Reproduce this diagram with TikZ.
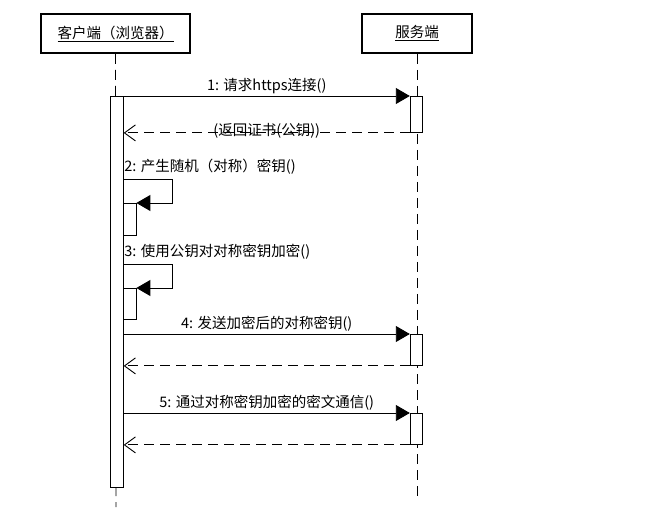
\documentclass[tikz,border=0pt]{standalone}
\usepackage{fontspec}
\setmainfont{Noto Sans CJK SC}
\usetikzlibrary{arrows.meta, positioning}
\tikzset{
  actor/.style={rectangle, draw=black, line width=2pt, minimum height=39pt,
    inner sep=0pt, font=\fontsize{14.5}{16}\selectfont},
  bar/.style={rectangle, draw=black, fill=white, line width=0.9pt,
    minimum width=12.5pt, inner sep=0pt},
  lifeline/.style={dash pattern=on 10pt off 6pt, line width=0.9pt},
  call/.style={-{Triangle[length=14pt, width=16pt]}, line width=0.9pt},
  reply/.style={-{Straight Barb[length=11pt, width=16pt]},
    dash pattern=on 10pt off 6pt, line width=0.9pt},
  msg/.style={font=\fontsize{14.5}{16}\selectfont, inner sep=1pt}
}

\begin{document}
\begin{tikzpicture}[x=1pt, y=-1pt]
\useasboundingbox (0,0) rectangle (661,518);

% Lifeline heads
\node[actor, minimum width=149pt] (client) at (115.5,33.5) {\underline{客户端（浏览器）}};
\node[actor, minimum width=110pt] (server) at (417,33.5) {\underline{服务端}};

% Lifelines
\coordinate (cend) at (116,507);
\coordinate (send) at (417,497);
\draw[lifeline] (client.south) -- (cend);
\draw[lifeline] (server.south) -- (send);

% Activation bars
\node[bar, minimum height=391pt, anchor=north] (cbar) at (117,96) {};
\node[bar, minimum height=36pt, anchor=north] (s1) at (416.5,96) {};
\node[bar, minimum height=32pt, anchor=north west] (n2) at (123,203) {};
\node[bar, minimum height=31pt, anchor=north west] (n3) at (123,288) {};
\node[bar, minimum height=31pt, anchor=north] (s4) at (416.5,334) {};
\node[bar, minimum height=31pt, anchor=north] (s5) at (416.5,413) {};

% 1
\draw[call] (cbar.east |- s1.north) -- (s1.north west)
  node[msg, midway, above, yshift=1pt] {1: 请求https连接()};
\draw[reply] (s1.south west) -- (cbar.east |- s1.south)
  node[msg, midway, yshift=2pt] {(返回证书(公钥))};

% 2
\draw[call] ([yshift=24pt]n2.north west)
  node[msg, anchor=south west, yshift=3pt] {2: 产生随机（对称）密钥()}
  -- ++(49,0) |- (n2.north east);

% 3
\draw[call] ([yshift=24pt]n3.north west)
  node[msg, anchor=south west, yshift=3pt] {3: 使用公钥对对称密钥加密()}
  -- ++(49,0) |- (n3.north east);

% 4
\draw[call] (cbar.east |- s4.north) -- (s4.north west)
  node[msg, midway, above, yshift=1pt] {4: 发送加密后的对称密钥()};
\draw[reply] (s4.south west) -- (cbar.east |- s4.south);

% 5
\draw[call] (cbar.east |- s5.north) -- (s5.north west)
  node[msg, midway, above, yshift=1pt] {5: 通过对称密钥加密的密文通信()};
\draw[reply] (s5.south west) -- (cbar.east |- s5.south);

\end{tikzpicture}
\end{document}
